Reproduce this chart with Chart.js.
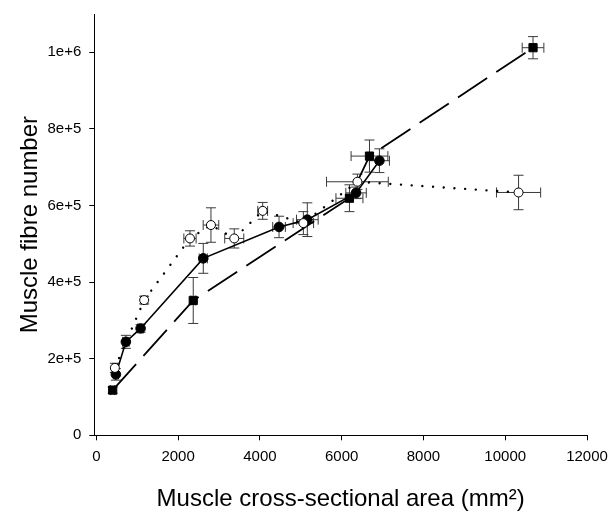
<!DOCTYPE html>
<html>
<head>
<meta charset="utf-8">
<script src="https://cdn.jsdelivr.net/npm/chart.js@4.4.0/dist/chart.umd.min.js"></script>
<style>
  body { margin: 0; background: #fff; }
  canvas { display: block; }
</style>
</head>
<body>
<canvas id="myChart" width="610" height="514"></canvas>
<script>
// filled squares, long dashed line
var areaA = [400, 2370, 6190, 6680, 10680];
var fibreA = [118000, 352000, 619000, 729000, 1012000];
var areaErrA = [50, 60, 330, 450, 265];
var fibreErrA = [8000, 60000, 35000, 42000, 29000];

// filled circles, solid line
var areaB = [477, 722, 1082, 2615, 4468, 5160, 6352, 6923];
var fibreB = [159000, 244000, 279000, 462000, 544000, 563000, 633000, 717000];
var areaErrB = [60, 80, 70, 100, 155, 265, 250, 245];
var fibreErrB = [15000, 17000, 10000, 39000, 28000, 44000, 15000, 31000];

// open circles, dotted line
var areaC = [453, 1170, 2290, 2803, 3373, 4068, 5063, 6385, 10326];
var fibreC = [176000, 353000, 514000, 549000, 514000, 586000, 554000, 662000, 634000];
var areaErrC = [60, 75, 150, 190, 233, 120, 250, 755, 540];
var fibreErrC = [12000, 10000, 20000, 45000, 25000, 22000, 30000, 20000, 45000];

var xTicks = [0, 2000, 4000, 6000, 8000, 10000, 12000];
var xTickLabels = ['0', '2000', '4000', '6000', '8000', '10000', '12000'];
var yTicks = [0, 200000, 400000, 600000, 800000, 1000000];
var yTickLabels = ['0', '2e+5', '4e+5', '6e+5', '8e+5', '1e+6'];

function points(xs, ys) {
	var pts = [];
	for (var i = 0; i < xs.length; i++) {
		pts.push({x: xs[i], y: ys[i]});
	}
	return pts;
}

// draws the x and y error bars with caps
var errorBars = {
	id: 'errorBars',
	beforeDatasetsDraw: function(chart) {
		var ctx = chart.ctx;
		var sx = chart.scales.x, sy = chart.scales.y;
		var cap = 5;
		ctx.save();
		ctx.strokeStyle = '#3a3a3a';
		ctx.lineWidth = 1;
		chart.data.datasets.forEach(function(ds) {
			ds.data.forEach(function(p, i) {
				var px = sx.getPixelForValue(p.x);
				var py = sy.getPixelForValue(p.y);
				var xl = sx.getPixelForValue(p.x - ds.xErr[i]);
				var xr = sx.getPixelForValue(p.x + ds.xErr[i]);
				var yt = sy.getPixelForValue(p.y + ds.yErr[i]);
				var yb = sy.getPixelForValue(p.y - ds.yErr[i]);
				ctx.beginPath();
				ctx.moveTo(px, yt); ctx.lineTo(px, yb);
				ctx.moveTo(px - cap, yt); ctx.lineTo(px + cap, yt);
				ctx.moveTo(px - cap, yb); ctx.lineTo(px + cap, yb);
				ctx.moveTo(xl, py); ctx.lineTo(xr, py);
				ctx.moveTo(xl, py - cap); ctx.lineTo(xl, py + cap);
				ctx.moveTo(xr, py - cap); ctx.lineTo(xr, py + cap);
				ctx.stroke();
			});
		});
		ctx.restore();
	}
};

var font = 'Liberation Sans, Arial, sans-serif';

function labelFor(ticks, labels) {
	return function(value) {
		var i = ticks.indexOf(value);
		return i >= 0 ? labels[i] : '';
	};
}

var ctx = document.getElementById('myChart').getContext('2d');
var myChart = new Chart(ctx, {
	type: 'scatter',
	data: {
		datasets: [{
			data: points(areaC, fibreC),
			xErr: areaErrC,
			yErr: fibreErrC,
			showLine: true,
			borderColor: '#000',
			borderWidth: 2.4,
			borderDash: [0.01, 10.7],
			borderCapStyle: 'round',
			pointStyle: 'circle',
			pointRadius: 4.5,
			pointBackgroundColor: '#fff',
			pointBorderColor: '#000',
			pointBorderWidth: 1
		}, {
			data: points(areaB, fibreB),
			xErr: areaErrB,
			yErr: fibreErrB,
			showLine: true,
			borderColor: '#000',
			borderWidth: 1.6,
			pointStyle: 'circle',
			pointRadius: 4.8,
			pointBackgroundColor: '#000',
			pointBorderColor: '#000',
			pointBorderWidth: 1
		}, {
			data: points(areaA, fibreA),
			xErr: areaErrA,
			yErr: fibreErrA,
			showLine: true,
			borderColor: '#000',
			borderWidth: 1.8,
			borderDash: [35, 11],
			pointStyle: 'rect',
			pointRadius: 5.8,
			pointBackgroundColor: '#000',
			pointBorderColor: '#000',
			pointBorderWidth: 1
		}]
	},
	options: {
		responsive: false,
		animation: false,
		devicePixelRatio: 1,
		layout: { padding: { left: 0, right: 23, top: 14, bottom: 0 } },
		plugins: {
			legend: { display: false },
			tooltip: { enabled: false }
		},
		elements: { line: { tension: 0 } },
		scales: {
			x: {
				type: 'linear',
				min: -50,
				max: 12000,
				afterBuildTicks: function(scale) {
					scale.ticks = xTicks.map(function(v) { return {value: v}; });
				},
				afterFit: function(scale) {
					scale.height = 514 - 435.3;
					scale.paddingLeft = 0;
					scale.paddingRight = 0;
				},
				grid: { display: true, drawOnChartArea: false, tickLength: 5, tickColor: '#000', lineWidth: 1 },
				border: { display: true, color: '#000', width: 1 },
				ticks: {
					color: '#000',
					font: { family: font, size: 15 },
					padding: 8,
					maxRotation: 0,
					callback: labelFor(xTicks, xTickLabels)
				},
				title: {
					display: true,
					text: 'Muscle cross-sectional area (mm²)',
					color: '#000',
					font: { family: font, size: 24 },
					padding: { top: 0, bottom: 0 }
				}
			},
			y: {
				type: 'linear',
				min: 0,
				max: 1100000,
				afterBuildTicks: function(scale) {
					scale.ticks = yTicks.map(function(v) { return {value: v}; });
				},
				afterFit: function(scale) {
					scale.width = 94.3;
					scale.paddingTop = 0;
					scale.paddingBottom = 0;
				},
				grid: { display: true, drawOnChartArea: false, tickLength: 5, tickColor: '#000', lineWidth: 1 },
				border: { display: true, color: '#000', width: 1 },
				ticks: {
					color: '#000',
					font: { family: font, size: 15 },
					padding: 8,
					callback: labelFor(yTicks, yTickLabels)
				},
				title: {
					display: true,
					text: 'Muscle fibre number',
					color: '#000',
					font: { family: font, size: 24 },
					padding: { top: 16, bottom: 0 }
				}
			}
		}
	},
	plugins: [errorBars]
});
</script>
</body>
</html>
